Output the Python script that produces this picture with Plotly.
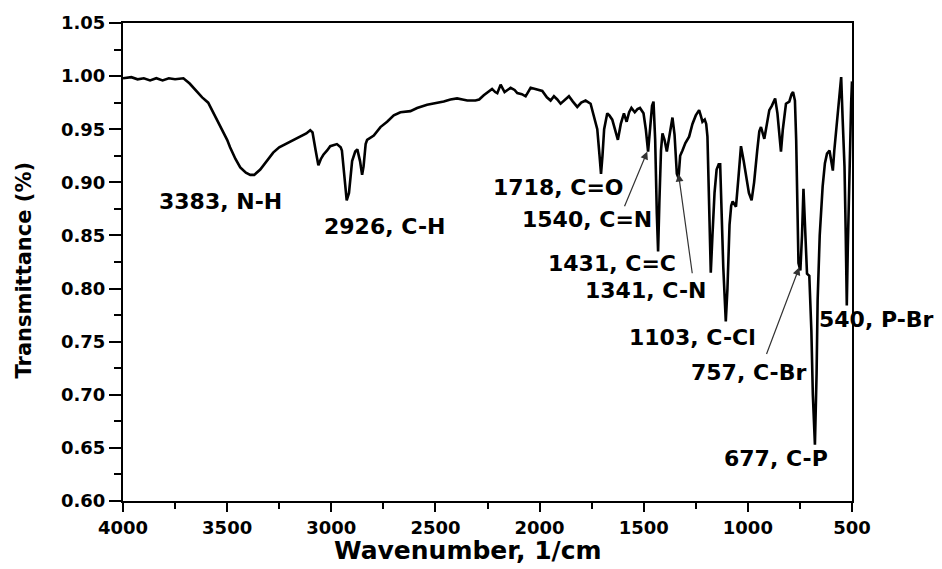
import plotly.graph_objects as go

# Spectrum (wavenumber in 1/cm, transmittance)
wavenumber = [4000, 3960, 3930, 3900, 3870, 3840, 3810, 3780, 3750, 3710, 3680, 3650, 3620, 3591,
              3560, 3534, 3500, 3486, 3460, 3437, 3410, 3389, 3370, 3341, 3310, 3279, 3250, 3212,
              3180, 3149, 3120, 3101, 3090, 3075, 3062, 3050, 3038, 3020, 3005, 2973, 2955, 2949,
              2935, 2926, 2915, 2900, 2885, 2875, 2862, 2852, 2845, 2835, 2828, 2796, 2764, 2732,
              2700, 2668, 2620, 2588, 2540, 2508, 2460, 2428, 2396, 2370, 2347, 2308, 2290, 2268,
              2240, 2228, 2213, 2203, 2187, 2168, 2139, 2120, 2107, 2085, 2067, 2043, 2025, 2011,
              1987, 1965, 1947, 1931, 1915, 1899, 1879, 1859, 1840, 1819, 1800, 1779, 1755, 1739,
              1723, 1712, 1705, 1698, 1690, 1675, 1665, 1651, 1635, 1624, 1610, 1595, 1582, 1570,
              1559, 1543, 1530, 1518, 1501, 1490, 1479, 1470, 1460, 1453, 1445, 1437, 1431, 1425,
              1417, 1410, 1400, 1389, 1375, 1362, 1352, 1341, 1333, 1325, 1314, 1300, 1282, 1266,
              1250, 1234, 1225, 1218, 1207, 1200, 1194, 1187, 1178, 1170, 1160, 1150, 1140, 1133,
              1127, 1118, 1106, 1098, 1088, 1080, 1073, 1057, 1045, 1033, 1020, 1009, 995, 982,
              970, 955, 945, 937, 928, 921, 913, 897, 885, 869, 858, 850, 841, 832, 822, 817,
              801, 790, 783, 774, 768, 762, 757, 748, 740, 733, 726, 716, 705, 695, 688, 678,
              670, 665, 655, 641, 630, 620, 608, 600, 592, 585, 571, 560, 552, 545, 536, 530,
              525, 520, 514, 509, 504, 500]
transmittance = [0.998, 0.999, 0.997, 0.998, 0.996, 0.998, 0.996, 0.998, 0.997, 0.998, 0.993, 0.986,
                 0.980, 0.975, 0.963, 0.952, 0.940, 0.933, 0.922, 0.914, 0.909, 0.907, 0.907, 0.912,
                 0.920, 0.928, 0.933, 0.937, 0.940, 0.943, 0.946, 0.949, 0.947, 0.930, 0.916, 0.922,
                 0.926, 0.930, 0.934, 0.936, 0.933, 0.930, 0.905, 0.883, 0.890, 0.920, 0.929, 0.931,
                 0.920, 0.907, 0.915, 0.936, 0.940, 0.944, 0.952, 0.957, 0.963, 0.966, 0.967, 0.970,
                 0.973, 0.974, 0.976, 0.978, 0.979, 0.978, 0.977, 0.977, 0.978, 0.982, 0.986, 0.988,
                 0.985, 0.984, 0.992, 0.985, 0.989, 0.987, 0.984, 0.983, 0.981, 0.989, 0.988, 0.987,
                 0.986, 0.980, 0.977, 0.981, 0.978, 0.974, 0.978, 0.981, 0.976, 0.971, 0.975, 0.977,
                 0.974, 0.963, 0.950, 0.925, 0.908, 0.925, 0.950, 0.965, 0.963, 0.959, 0.948, 0.940,
                 0.955, 0.965, 0.957, 0.966, 0.970, 0.966, 0.969, 0.970, 0.965, 0.950, 0.929, 0.950,
                 0.972, 0.976, 0.940, 0.870, 0.835, 0.880, 0.930, 0.946, 0.940, 0.929, 0.948, 0.961,
                 0.945, 0.908, 0.904, 0.925, 0.930, 0.937, 0.943, 0.955, 0.963, 0.968, 0.962, 0.957,
                 0.959, 0.955, 0.943, 0.880, 0.815, 0.850, 0.890, 0.912, 0.917, 0.917, 0.880, 0.820,
                 0.769, 0.800, 0.860, 0.878, 0.882, 0.877, 0.905, 0.934, 0.920, 0.905, 0.890, 0.883,
                 0.900, 0.930, 0.948, 0.952, 0.944, 0.941, 0.950, 0.968, 0.972, 0.979, 0.965, 0.945,
                 0.929, 0.950, 0.970, 0.974, 0.976, 0.983, 0.985, 0.977, 0.940, 0.860, 0.824, 0.817,
                 0.850, 0.894, 0.860, 0.814, 0.812, 0.760, 0.700, 0.653, 0.720, 0.789, 0.850, 0.896,
                 0.918, 0.927, 0.930, 0.922, 0.911, 0.930, 0.959, 0.985, 0.999, 0.960, 0.915, 0.850,
                 0.784, 0.840, 0.905, 0.946, 0.975, 0.995]

# Band labels inside the plot: text, label position (wavenumber, T)
band_text = ["3383, N-H", "2926, C-H", "1718, C=O", "1540, C=N", "1431, C=C",
             "1341, C-N", "1103, C-Cl", "757, C-Br", "677, C-P"]
band_x = [3534, 2745, 1909, 1774, 1654, 1490, 1266, 997, 867]
band_y = [0.882, 0.858, 0.895, 0.865, 0.824, 0.798, 0.754, 0.721, 0.640]

# Band label that sits past the right edge of the axis (placed in paper space)
edge_text = "540, P-Br"
edge_y = 0.771

# Arrows: head (x, y) and tail (x, y)
arrow_head_x = [1483, 1333, 753]
arrow_head_y = [0.929, 0.908, 0.820]
arrow_tail_x = [1595, 1266, 913]
arrow_tail_y = [0.876, 0.813, 0.737]

FONT = "DejaVu Sans"
label_font = dict(family=FONT, size=22, color="black", weight="bold")

fig = go.Figure()
fig.add_trace(go.Scatter(x=wavenumber, y=transmittance, mode="lines",
                         line=dict(color="black", width=2.6), showlegend=False))

annotations = []
for t, x, y in zip(band_text, band_x, band_y):
    annotations.append(dict(x=x, y=y, xref="x", yref="y", text=t, showarrow=False,
                            font=label_font, xanchor="center", yanchor="middle"))
annotations.append(dict(x=1.034, y=edge_y, xref="paper", yref="y", text=edge_text,
                        showarrow=False, font=label_font, xanchor="center", yanchor="middle"))
for hx, hy, tx, ty in zip(arrow_head_x, arrow_head_y, arrow_tail_x, arrow_tail_y):
    annotations.append(dict(x=hx, y=hy, ax=tx, ay=ty, xref="x", yref="y", axref="x", ayref="y",
                            text="", showarrow=True, arrowhead=2, arrowsize=1.3, arrowwidth=1.2,
                            arrowcolor="#333333", standoff=0, startstandoff=0))
annotations.append(dict(x=0.4726, y=-0.1046, xref="paper", yref="paper", text="Wavenumber, 1/cm",
                        showarrow=False, xanchor="center", yanchor="middle",
                        font=dict(family=FONT, size=25, color="black", weight="bold")))
annotations.append(dict(x=-0.1365, y=0.4833, xref="paper", yref="paper", text="Transmittance (%)",
                        showarrow=False, xanchor="center", yanchor="middle", textangle=-90,
                        font=dict(family=FONT, size=21, color="black", weight="bold")))

fig.update_layout(
    width=942, height=569,
    margin=dict(l=123, r=90, t=23, b=68),
    paper_bgcolor="white", plot_bgcolor="white",
    font=dict(family=FONT, color="black", weight="bold"),
    annotations=annotations,
    xaxis=dict(range=[4000, 500], tick0=500, dtick=500, ticks="outside", ticklen=9, tickwidth=2,
               tickcolor="black", showline=True, linecolor="black", linewidth=2, mirror=True,
               showgrid=False, zeroline=False,
               tickfont=dict(family=FONT, size=18, color="black", weight="bold"),
               minor=dict(dtick=250, tick0=500, ticks="outside", ticklen=6, tickwidth=2,
                          tickcolor="black", showgrid=False)),
    yaxis=dict(range=[0.60, 1.05], tick0=0.6, dtick=0.05, tickformat=".2f", ticks="outside",
               ticklen=12, tickwidth=2, tickcolor="black", showline=True, linecolor="black",
               linewidth=2, mirror=True, showgrid=False, zeroline=False,
               tickfont=dict(family=FONT, size=18, color="black", weight="bold"),
               minor=dict(dtick=0.025, tick0=0.6, ticks="outside", ticklen=7, tickwidth=2,
                          tickcolor="black", showgrid=False)),
)

fig.write_html("out.html")
